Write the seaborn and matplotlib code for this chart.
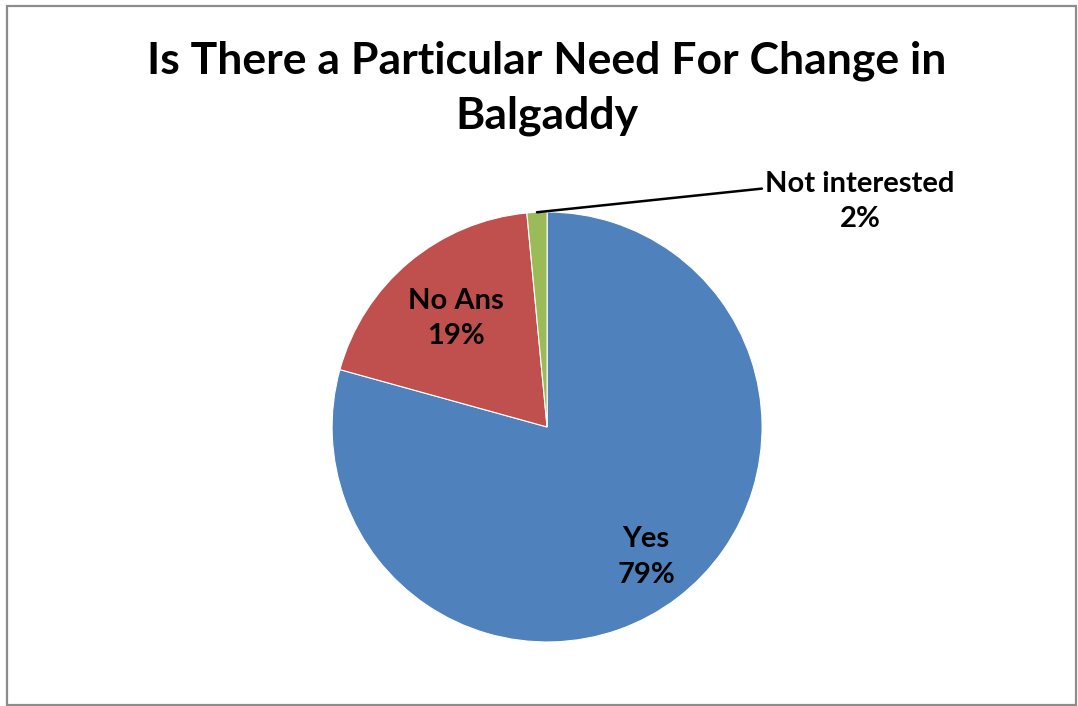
import numpy as np
import matplotlib
matplotlib.use("Agg")
import matplotlib.pyplot as plt
from matplotlib.patches import Rectangle
import seaborn as sns

# data
categories = ["Yes", "No Ans", "Not interested"]
shares = [79.3, 19.2, 1.5]
colors = ["#4F81BD", "#C0504D", "#9BBB59"]
title = "Is There a Particular Need For Change in\nBalgaddy"

sns.set_theme(style="white")
plt.rcParams["font.family"] = ["Lato", "DejaVu Sans"]
plt.rcParams["text.color"] = "black"

fig = plt.figure(figsize=(10.78, 7.06), dpi=100)
ax = fig.add_axes([0.308, 0.0907, 0.399, 0.609])

wedges, _ = ax.pie(shares, colors=sns.color_palette(colors), startangle=90,
                   counterclock=False, radius=1.0,
                   wedgeprops=dict(edgecolor="white", linewidth=0.8))
ax.set_xlim(-1, 1)
ax.set_ylim(-1, 1)
ax.set_aspect("equal")

def mid(w):
    a = np.deg2rad((w.theta1 + w.theta2) / 2)
    return np.cos(a), np.sin(a)

total = sum(shares)
lab = [f"{c}\n{round(v / total * 100):.0f}%" for c, v in zip(categories, shares)]

# inside labels
for w, t, r in zip(wedges[:2], lab[:2], [0.76, 0.66]):
    cx, cy = mid(w)
    ax.text(cx * r, cy * r, t, ha="center", va="center", fontsize=21,
            fontweight="bold", linespacing=1.45, color="black")

# small slice: outside label with leader line
cx, cy = mid(wedges[2])
ax.annotate(lab[2], xy=(cx, cy), xytext=(1.455, 1.05), ha="center", va="center",
            fontsize=21, fontweight="bold", linespacing=1.45, color="black",
            arrowprops=dict(arrowstyle="-", color="black", lw=1.8,
                            shrinkA=0, shrinkB=0,
                            connectionstyle="angle,angleA=0,angleB=6,rad=0",
                            relpos=(0.0, 0.74)),
            annotation_clip=False)

fig.text(0.507, 0.875, title, ha="center", va="center", fontsize=32,
         fontweight="bold", linespacing=1.45, color="black")

fig.patches.append(Rectangle((7 / 1078, 1.5 / 706), 1069 / 1078, 699 / 706,
                             transform=fig.transFigure, fill=False,
                             edgecolor="#8C8C8C", linewidth=1.6))

fig.savefig("out.png", dpi=100)
